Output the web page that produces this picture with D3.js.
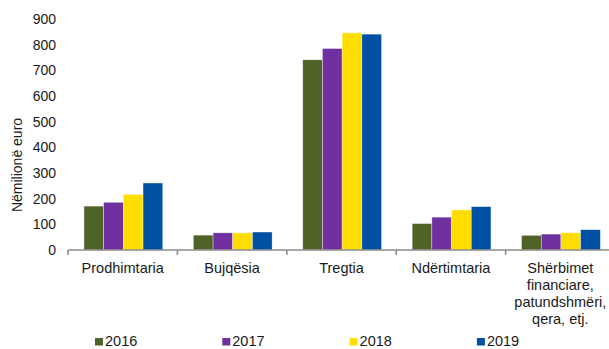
<!DOCTYPE html>
<html>
<head>
<meta charset="utf-8">
<script src="https://cdn.jsdelivr.net/npm/d3@7"></script>
<style>
  html, body { margin: 0; padding: 0; background: #fff; }
  svg { display: block; font-family: "Liberation Sans", Arial, sans-serif; }
</style>
</head>
<body>
<svg id="chart" width="609" height="349"></svg>
<script>
// Sector categories (label lines) and yearly values, in million euro
const categories = [
  ["Prodhimtaria"],
  ["Bujqësia"],
  ["Tregtia"],
  ["Ndërtimtaria"],
  ["Shërbimet", "financiare,", "patundshmëri,", "qera, etj."]
];
const years = ["2016", "2017", "2018", "2019"];
const values2016 = [171, 58, 741, 103, 57];
const values2017 = [186, 67, 785, 128, 62];
const values2018 = [217, 67, 846, 156, 67];
const values2019 = [261, 70, 841, 169, 79];
const yTicks = [0, 100, 200, 300, 400, 500, 600, 700, 800, 900];
const yTitle = "Nëmilionë euro";

const seriesValues = [values2016, values2017, values2018, values2019];
const colors = ["#4F6228", "#7030A0", "#FFDD00", "#0050A4"];

const svg = d3.select("#chart");
const catKeys = categories.map(c => c.join(" "));

const y = d3.scaleLinear().domain([0, 900]).range([250, 19]);
const x0 = d3.scaleBand().domain(catKeys).range([68, 615]).padding(0);
const bw = x0.bandwidth();
const x1 = d3.scaleBand().domain(years).range([bw * 0.146, bw * 0.866]).padding(0);
const color = d3.scaleOrdinal().domain(years).range(colors);

// Bars
const groups = svg.append("g").selectAll("g")
  .data(catKeys)
  .join("g")
  .attr("transform", d => `translate(${x0(d)},0)`);

groups.selectAll("rect")
  .data((d, i) => years.map((yr, s) => ({ yr, v: seriesValues[s][i] })))
  .join("rect")
  .attr("x", d => x1(d.yr))
  .attr("width", x1.bandwidth())
  .attr("y", d => y(d.v))
  .attr("height", d => y(0) - y(d.v))
  .attr("fill", d => color(d.yr))
  .attr("stroke", "#ffffff")
  .attr("stroke-opacity", 0.6)
  .attr("stroke-width", 0.6);

// Y axis labels (no axis line)
const yAxis = d3.axisLeft(y).tickValues(yTicks).tickSize(0).tickPadding(0);
const gy = svg.append("g").attr("transform", "translate(56,0)").call(yAxis);
gy.select(".domain").remove();
gy.selectAll("text")
  .attr("font-size", "14px")
  .attr("fill", "#1a1a1a")
  .attr("font-family", "Liberation Sans, Arial, sans-serif");

// X axis line with boundary ticks
const boundaries = catKeys.map(k => x0(k)).concat([x0.range()[1]]);
svg.append("line")
  .attr("x1", boundaries[0]).attr("x2", boundaries[boundaries.length - 1])
  .attr("y1", y(0)).attr("y2", y(0))
  .attr("stroke", "#8c8c8c").attr("stroke-width", 1.6);
svg.append("g").selectAll("line")
  .data(boundaries)
  .join("line")
  .attr("x1", d => d).attr("x2", d => d)
  .attr("y1", y(0)).attr("y2", y(0) + 5)
  .attr("stroke", "#8c8c8c").attr("stroke-width", 1.6);

// Category labels
const labels = svg.append("g").selectAll("text")
  .data(categories)
  .join("text")
  .attr("text-anchor", "middle")
  .attr("font-size", "14.5px")
  .attr("fill", "#1a1a1a")
  .attr("transform", (d, i) => `translate(${x0(catKeys[i]) + bw / 2},273)`);
labels.selectAll("tspan")
  .data(d => d)
  .join("tspan")
  .attr("x", 0)
  .attr("y", (d, i) => i * 17)
  .text(d => d);

// Y axis title
svg.append("text")
  .attr("transform", "translate(22,165) rotate(-90)")
  .attr("text-anchor", "middle")
  .attr("font-size", "14px")
  .attr("fill", "#1a1a1a")
  .text(yTitle);

// Legend
const legend = svg.append("g").selectAll("g")
  .data(years)
  .join("g")
  .attr("transform", (d, i) => `translate(${95 + i * 127.3},0)`);
legend.append("rect")
  .attr("x", 0).attr("y", 338)
  .attr("width", 8).attr("height", 7.5)
  .attr("fill", d => color(d));
legend.append("text")
  .attr("x", 10).attr("y", 345.5)
  .attr("font-size", "14.5px")
  .attr("fill", "#1a1a1a")
  .text(d => d);
</script>
</body>
</html>
